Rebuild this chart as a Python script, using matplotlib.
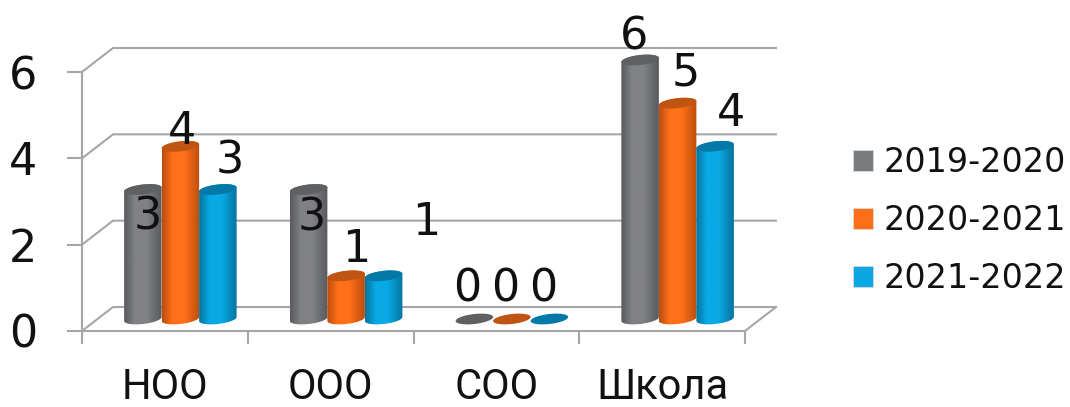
import numpy as np
import matplotlib
matplotlib.use('Agg')
import matplotlib.pyplot as plt
from matplotlib.colors import LinearSegmentedColormap
from matplotlib.patches import Patch, Polygon

# Data
categories = ['НОО', 'ООО', 'СОО', 'Школа']
series_names = ['2019-2020', '2020-2021', '2021-2022']
vals_2019 = [3, 3, 0, 6]
vals_2020 = [4, 1, 0, 5]
vals_2021 = [3, 1, 0, 4]
y_ticks = [0, 2, 4, 6]

# Colours: edge of cylinder, middle of cylinder, top cap
edge_cols = ['#595a5d', '#bd4d0e', '#05749e']
mid_cols = ['#808185', '#ff7018', '#09a9e6']
cap_cols = ['#5f6062', '#bf5413', '#0479a8']
grid_col = '#a6a6a6'

# Label offsets from the bar top, in pixels (hand placed in the original)
off_2019 = [(4.5, -23), (3.5, -24), (-7, 34), (-6, 28)]
off_2020 = [(2, 19), (10, 31), (-6.5, 34), (8, 35)]
off_2021 = [(11.5, 33), (43, 58), (-6.5, 34), (15.5, 37)]

W, H = 1070, 407
plt.rcParams['font.family'] = ['DejaVu Sans']
fig = plt.figure(figsize=(W / 100, H / 100), dpi=100)
ax = fig.add_axes([82 / W, (H - 331) / H, (745 - 82) / W, (331 - 72) / H])
ax.patch.set_alpha(0)

px_x = 4 / (745 - 82)   # data units per pixel
px_y = 6 / (331 - 72)
depth_x = 31 * px_x
depth_y = 24 * px_y
bar_w = 37.5 * px_x
cap_b = 5 * px_y
cap_tilt = 2.0 * px_y


def cap_outline(xc, yc, t):
    a = bar_w / 2
    return xc + a * np.cos(t), yc + cap_b * np.sin(t) + cap_tilt * np.cos(t)


def draw_bar(xc, val, j, z):
    base = depth_y / 2
    top = base + val
    if val > 0:
        lx, ly = cap_outline(xc, base, np.linspace(np.pi, 2 * np.pi, 40))
        ux, uy = cap_outline(xc, top, np.linspace(0, np.pi, 40))
        body = Polygon(np.column_stack([np.r_[lx, ux], np.r_[ly, uy]]),
                       closed=True, transform=ax.transData)
        cmap = LinearSegmentedColormap.from_list(
            'c', [(0, edge_cols[j]), (0.28, mid_cols[j]), (0.6, mid_cols[j]), (1, edge_cols[j])])
        im = ax.imshow(np.linspace(0, 1, 64).reshape(1, -1), cmap=cmap, aspect='auto',
                       extent=[xc - bar_w / 2, xc + bar_w / 2, base - 2 * cap_b, top + 2 * cap_b],
                       interpolation='bilinear', zorder=z)
        im.set_clip_path(body)
        im.set_clip_box(fig.bbox)
    cx, cy = cap_outline(xc, top, np.linspace(0, 2 * np.pi, 80))
    ax.fill(cx, cy, color=cap_cols[j], lw=0, zorder=z + 0.5, clip_on=False)


# Back wall, floor and side lines
for t in y_ticks:
    ax.plot([0, depth_x, 4 + depth_x], [t, t + depth_y, t + depth_y], color=grid_col, lw=1.5,
            zorder=1, clip_on=False)
ax.plot([4, 4 + depth_x], [0, depth_y], color=grid_col, lw=1.5, zorder=1, clip_on=False)

# Bars
all_vals = [vals_2019, vals_2020, vals_2021]
all_offs = [off_2019, off_2020, off_2021]
z = 3
for i in range(len(categories)):
    for j in range(3):
        xc = i + 0.5 + depth_x / 2 + (j - 1) * bar_w
        draw_bar(xc, all_vals[j][i], j, z)
        z += 1
        dx, dy = all_offs[j][i]
        ax.annotate(str(all_vals[j][i]), (xc, all_vals[j][i] + depth_y / 2),
                    xytext=(dx * 0.72, dy * 0.72), textcoords='offset points',
                    ha='center', va='center_baseline', fontsize=32, color='#111111',
                    zorder=50, annotation_clip=False)

ax.set_xlim(0, 4)
ax.set_ylim(0, 6)

# Axes
for s in ['top', 'right']:
    ax.spines[s].set_visible(False)
for s in ['left', 'bottom']:
    ax.spines[s].set_color(grid_col)
    ax.spines[s].set_linewidth(1.5)
ax.set_yticks(y_ticks)
ax.tick_params(axis='y', length=11, width=1.5, color=grid_col, pad=21, labelsize=32,
               labelcolor='#111111')
ax.set_xticks(range(5))
ax.set_xticklabels([])
ax.tick_params(axis='x', which='major', length=9.5, width=1.5, color=grid_col)
ax.set_xticks(np.arange(len(categories)) + 0.5, minor=True)
ax.set_xticklabels(categories, minor=True, fontsize=30, color='#111111', family='Roboto')
ax.tick_params(axis='x', which='minor', length=0, pad=26)

# Legend
handles = [Patch(facecolor=c, edgecolor='#d9d9d9', lw=0.6) for c in ['#7a7b7f', '#ff6f17', '#09a7e4']]
fig.legend(handles, series_names, loc='upper left', bbox_to_anchor=(853 / W, 1 - 146.5 / H),
           frameon=False, fontsize=24, handlelength=0.6, handleheight=0.6,
           handletextpad=0.3, labelspacing=0.75, borderpad=0, borderaxespad=0,
           labelcolor='#111111')

plt.savefig('out.png', dpi=100)
